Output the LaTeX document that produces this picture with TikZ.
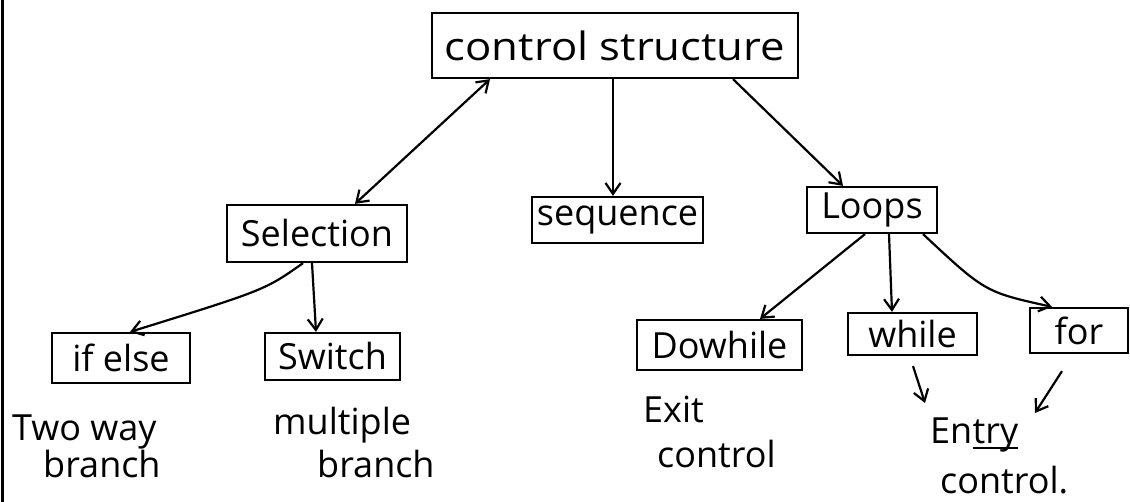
\documentclass[tikz,border=0pt]{standalone}
\usepackage{fontspec}
\setmainfont{Open Sans}
\newfontfamily\widehand[FakeStretch=1.12]{Open Sans}
\usetikzlibrary{arrows.meta}
\begin{document}
\begin{tikzpicture}[x=1pt,y=-1pt,
  pen/.style={line width=2.2pt},
  box/.style={draw,pen,inner sep=0pt,anchor=center,font=\fontsize{36}{38}\selectfont},
  lbl/.style={anchor=base west,inner sep=0pt,font=\fontsize{36}{38}\selectfont},
  tip/.tip={Straight Barb[length=11pt,width=15pt,line width=2.2pt]},
  arr/.style={pen,-tip}]
\useasboundingbox (0,0) rectangle (1130,502);
\fill[white] (0,0) rectangle (1130,502);
\draw[line width=3pt] (2.5,0) -- (2.5,502);
% boxes
\node[box,minimum width=366pt,minimum height=65pt,font=\widehand\fontsize{39}{41}\selectfont] (cs) at (615,45.5) {control structure};
\node[box,minimum width=180pt,minimum height=57pt] (sel) at (317,233.5) {Selection};
\node[box,minimum width=171pt,minimum height=46pt] (seq) at (617.5,220) {sequence};
\node[box,minimum width=130pt,minimum height=46pt] (loops) at (872,210) {Loops};
\node[box,minimum width=138pt,minimum height=50pt] (ifelse) at (121,358) {if else};
\node[box,minimum width=135pt,minimum height=47pt] (switch) at (332.5,356.5) {Switch};
\node[box,minimum width=165pt,minimum height=50pt] (dowhile) at (719.5,345) {Dowhile};
\node[box,minimum width=129pt,minimum height=42pt] (while) at (912.5,334) {while};
\node[box,minimum width=98pt,minimum height=45pt] (for) at (1079,330.5) {for};
% connectors between boxes
\draw[pen,tip-tip] ([xshift=-125pt]cs.south) -- ([xshift=38pt]sel.north);
\draw[arr] ([xshift=-2pt]cs.south) -- ([xshift=-4.5pt]seq.north);
\draw[arr] ([xshift=118pt]cs.south) -- ([xshift=-29pt]loops.north);
\draw[arr] ([xshift=-14pt]sel.south) .. controls (265,290) .. ([xshift=9pt]ifelse.north);
\draw[arr] ([xshift=-5pt]sel.south) -- ([xshift=-16.5pt]switch.north);
\draw[arr] ([xshift=-7pt]loops.south) -- ([xshift=40.5pt]dowhile.north);
\draw[arr] ([xshift=17pt]loops.south) -- ([xshift=-20.5pt]while.north);
\draw[arr] ([xshift=51pt]loops.south) .. controls (985,292) .. ([xshift=-27pt]for.north);
% short pointers down to the notes
\coordinate (wa) at (925,403);
\coordinate (fa) at (1035,413);
\draw[arr] ([xshift=0.5pt,yshift=-10pt]while.south) -- (wa);
\draw[arr] ([xshift=-17pt,yshift=-17pt]for.south) -- (fa);
% notes under the boxes
\node[lbl] (n1a) at (12,440) {Two way};
\node[lbl] (n1b) at (43,477) {branch};
\node[lbl] (n2a) at (273,435) {multiple};
\node[lbl] (n2b) at (317,477) {branch};
\node[lbl] (n3a) at (643,423) {Exit};
\node[lbl] (n3b) at (657,467) {control};
\node[lbl] (n4a) at (930,443) {En};
\node[lbl] (n4t) at (n4a.base east) {try};
\node[lbl] (n4b) at (940,493) {control.};
\draw[pen] ([yshift=-5pt]n4t.base west) -- ([yshift=-5pt]n4t.base east);
\end{tikzpicture}
\end{document}
